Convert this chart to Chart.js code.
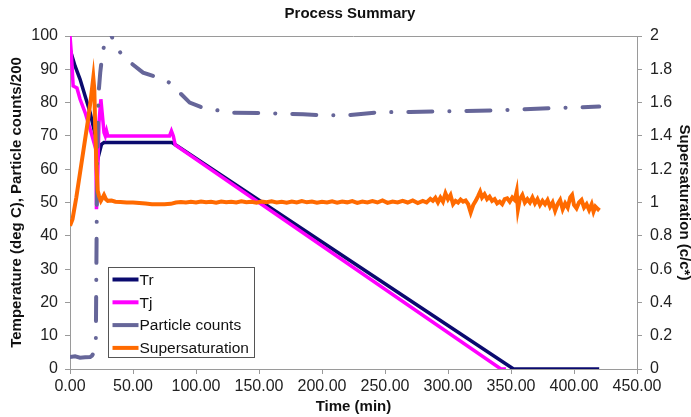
<!DOCTYPE html>
<html>
<head>
<meta charset="utf-8">
<title>Process Summary</title>
<script src="https://cdn.jsdelivr.net/npm/chart.js@4/dist/chart.umd.min.js"></script>
<style>
    body { margin: 0; background: #fff; }
    #wrap { width: 691px; height: 417px; }
</style>
</head>
<body>
<div id="wrap"><canvas id="processChart" width="691" height="417"></canvas></div>
<script>
// Reactor temperature (Tr), minutes / deg C
const trTime = [0, 4, 8, 12, 16, 19, 22, 23, 25, 27, 81, 352, 420];
const trTemp = [96, 91, 87, 82, 77, 72, 66, 64.5, 67.5, 68, 68, 0, 0];

// Jacket temperature (Tj)
const tjTime = [0, 1, 2.5, 5.5, 8, 12, 16, 19, 20.5, 21, 21.6, 23, 24.5, 25.5, 27, 28, 29, 30, 79, 80.5, 82, 83.5, 342, 346];
const tjTemp = [100, 95, 85, 84.4, 81, 77, 72, 68, 66, 48, 52, 74, 81, 77, 71, 70, 71.5, 70, 70, 71.5, 70, 67.3, 0, 0];

// Particle counts / 200
const pcTime = [0, 4, 8, 12, 16, 17.5, 19, 20.5, 21.5, 22.5, 24, 25.5, 27, 29, 31, 33, 36, 40, 48, 58, 70, 79, 87, 95, 105, 117, 127, 150, 185, 200, 220, 245, 270, 300, 340, 380, 400, 420];
const pcCounts = [3.6, 3.8, 3.4, 3.5, 3.6, 4.0, 5.0, 8, 60, 82, 89, 94, 97, 102, 104, 100, 97, 95, 92, 89, 87.5, 86, 83, 80, 78.5, 77.7, 77, 76.9, 76.5, 76.2, 76.2, 77.1, 77.2, 77.4, 77.7, 78.3, 78.5, 78.8];

// Supersaturation (c/c*)
const ssTime = [0, 2, 5, 8, 11, 14, 16.5, 18.5, 19.3, 20, 21, 22, 23, 24.5, 26, 27, 28.5, 30, 33, 36, 40, 45, 50, 55, 60, 65, 70, 75, 80, 84, 88, 92, 96, 100,
    104, 108, 112, 116, 120, 124, 128, 132, 136, 140, 144, 148, 152, 156, 160, 164, 168, 172, 176, 180, 184, 188, 192, 196, 200,
    204, 208, 212, 216, 220, 224, 228, 232, 236, 240, 244, 248, 252, 256, 260, 264, 268, 272, 276, 280,
    283, 286, 288, 290, 292, 294, 296, 298, 300, 302, 304, 306, 308, 310, 312, 314, 316, 318, 320, 322, 324, 325.5, 327, 329, 331,
    333, 335, 337, 339, 341, 343, 345, 347, 349, 351, 353, 354.5, 355.5, 357, 359, 361, 363, 365, 367, 369, 371, 373, 375, 377,
    379, 381, 383, 385, 387, 389, 391, 393, 395, 397, 398.5, 400, 402, 404, 406, 408, 410, 412, 414, 415.5, 417, 419, 420];
const ssValue = [0.86, 0.90, 1.03, 1.18, 1.33, 1.48, 1.62, 1.75, 1.68, 1.45, 1.22, 1.07, 1.04, 1.01, 1.03, 1.045, 1.02, 1.01, 1.012, 1.005, 1.003, 1.0, 1.0, 0.997, 0.994, 0.99, 0.99, 0.99, 0.992, 1.0, 1.003, 1.0, 1.004, 1.0,
    1.006, 1.001, 1.004, 0.999, 1.006, 1.001, 1.005, 1.0, 1.007, 1.001, 1.005, 0.999, 1.006, 1.001, 1.007, 1.0, 1.005, 0.999, 1.006, 1.0, 1.008, 1.001, 1.006, 0.999, 1.005,
    1.0, 1.007, 0.999, 1.006, 1.001, 1.009, 0.998, 1.006, 1.0, 1.008, 1.0, 1.012, 0.998, 1.006, 1.0, 1.01, 1.0, 1.012, 0.997, 1.01,
    1.0, 1.022, 1.01, 1.028, 1.0, 1.03, 1.005, 1.055, 1.02, 1.045, 0.99, 1.01, 1.0, 1.018, 1.005, 1.012, 0.99, 0.94, 0.985, 1.01, 1.04, 1.065, 1.03, 1.05, 1.02,
    1.035, 1.01, 1.02, 0.995, 1.005, 0.99, 1.02, 1.025, 1.005, 1.03, 1.015, 1.065, 0.96, 1.02, 1.045, 1.0, 1.02, 1.0, 1.03, 0.995, 1.02, 0.985, 1.01, 0.99,
    1.015, 0.975, 1.0, 0.95, 0.99, 1.015, 0.96, 0.995, 0.97, 1.03, 1.045, 0.985, 0.965, 1.0, 1.015, 0.97, 0.99, 0.955, 0.99, 0.945, 0.975, 0.96, 0.97];

const FONT = "'Liberation Sans', Arial, sans-serif";
const AXIS_GREY = '#9a9a9a';

/**
 * Zip a time array and a value array into {x, y} points
 */
function toPoints(xs, ys) {
    return xs.map((x, i) => ({ x: x, y: ys[i] }));
}

/**
 * Title, plot frame and the legend box that sits inside the plot
 */
const chartDecor = {
    id: 'chartDecor',
    beforeDatasetsDraw(chart) {
        const { ctx, chartArea } = chart;
        ctx.save();
        ctx.strokeStyle = AXIS_GREY;
        ctx.lineWidth = 1;
        ctx.beginPath();
        ctx.moveTo(chartArea.left, chartArea.top + 0.5);
        ctx.lineTo(chartArea.right, chartArea.top + 0.5);
        ctx.stroke();
        ctx.restore();
    },
    afterDraw(chart) {
        const ctx = chart.ctx;
        ctx.save();

        // chart title
        ctx.fillStyle = '#111';
        ctx.font = 'bold 15px ' + FONT;
        ctx.textAlign = 'center';
        ctx.textBaseline = 'middle';
        ctx.fillText('Process Summary', 350, 14);

        // legend box
        const box = { left: 108.5, top: 267.5, width: 146, height: 90 };
        ctx.fillStyle = '#fff';
        ctx.fillRect(box.left, box.top, box.width, box.height);
        ctx.strokeStyle = '#555';
        ctx.lineWidth = 1;
        ctx.strokeRect(box.left, box.top, box.width, box.height);

        ctx.font = '15.5px ' + FONT;
        ctx.textAlign = 'left';
        ctx.textBaseline = 'middle';
        chart.data.datasets.forEach((ds, i) => {
            const y = box.top + 12 + i * 22.8;
            ctx.strokeStyle = ds.borderColor;
            ctx.lineWidth = 4;
            ctx.beginPath();
            ctx.moveTo(box.left + 4, y);
            ctx.lineTo(box.left + 30, y);
            ctx.stroke();
            ctx.fillStyle = '#111';
            ctx.fillText(ds.label, box.left + 31, y + 1);
        });
        ctx.restore();
    }
};

function renderProcessChart() {
    const canvas = document.getElementById('processChart');

    new Chart(canvas, {
        type: 'line',
        data: {
            datasets: [{
                label: 'Tr',
                data: toPoints(trTime, trTemp),
                borderColor: '#0a0a6e',
                borderWidth: 3.5,
                yAxisID: 'y',
                order: 4
            }, {
                label: 'Tj',
                data: toPoints(tjTime, tjTemp),
                borderColor: '#ff00ff',
                borderWidth: 3.5,
                yAxisID: 'y',
                order: 3
            }, {
                label: 'Particle counts',
                data: toPoints(pcTime, pcCounts),
                borderColor: '#666699',
                borderWidth: 4,
                borderDash: [24, 17, 0.1, 17],
                borderCapStyle: 'round',
                yAxisID: 'y',
                order: 2
            }, {
                label: 'Supersaturation',
                data: toPoints(ssTime, ssValue),
                borderColor: '#ff6a00',
                borderWidth: 4,
                yAxisID: 'y1',
                order: 1
            }]
        },
        options: {
            responsive: false,
            animation: false,
            layout: { padding: { top: 36, left: 0, right: 0, bottom: 0 } },
            elements: {
                point: { radius: 0 },
                line: { tension: 0, fill: false }
            },
            scales: {
                x: {
                    type: 'linear',
                    position: 'bottom',
                    min: 0,
                    max: 450,
                    grid: { drawOnChartArea: false, color: AXIS_GREY, tickLength: 5 },
                    border: { color: AXIS_GREY },
                    ticks: {
                        stepSize: 50,
                        padding: 3,
                        color: '#222',
                        font: { family: FONT, size: 16 },
                        callback: v => v.toFixed(2)
                    },
                    title: {
                        display: true,
                        text: 'Time (min)',
                        color: '#111',
                        font: { family: FONT, size: 15, weight: 'bold' },
                        padding: { top: 0, bottom: 1 }
                    },
                    afterFit: scale => { scale.height = 48; }
                },
                y: {
                    position: 'left',
                    min: 0,
                    max: 100,
                    grid: { drawOnChartArea: false, color: AXIS_GREY, tickLength: 5 },
                    border: { color: AXIS_GREY },
                    ticks: {
                        stepSize: 10,
                        padding: 7,
                        color: '#222',
                        font: { family: FONT, size: 16 }
                    },
                    title: {
                        display: true,
                        text: 'Temperature (deg C), Particle counts/200',
                        color: '#111',
                        font: { family: FONT, size: 15, weight: 'bold' },
                        padding: { top: 8, bottom: 0 }
                    },
                    afterFit: scale => { scale.width = 70; }
                },
                y1: {
                    position: 'right',
                    min: 0,
                    max: 2,
                    grid: { drawOnChartArea: false, color: AXIS_GREY, tickLength: 5 },
                    border: { color: AXIS_GREY },
                    ticks: {
                        stepSize: 0.2,
                        padding: 8,
                        color: '#222',
                        font: { family: FONT, size: 16 },
                        callback: v => String(Number(v.toFixed(1)))
                    },
                    title: {
                        display: true,
                        text: 'Supersaturation (c/c*)',
                        color: '#111',
                        font: { family: FONT, size: 15, weight: 'bold' },
                        padding: { top: -2, bottom: 0 }
                    },
                    afterFit: scale => { scale.width = 54; }
                }
            },
            plugins: {
                legend: { display: false },
                title: { display: false },
                tooltip: { enabled: false }
            }
        },
        plugins: [chartDecor]
    });
}

renderProcessChart();
</script>
</body>
</html>
